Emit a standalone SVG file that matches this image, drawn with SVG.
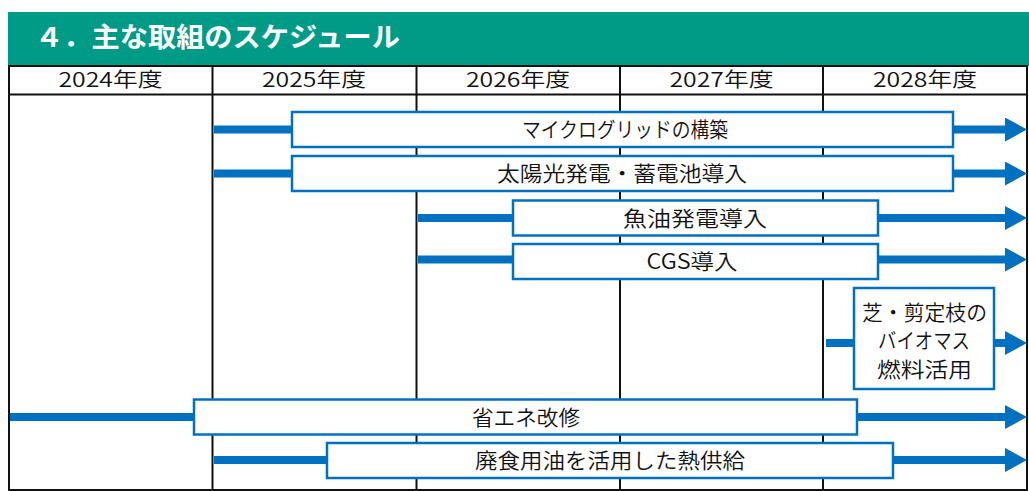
<svg xmlns="http://www.w3.org/2000/svg" width="1029" height="491" viewBox="0 0 1029 491">
<style>
  text { font-family: "Noto Sans CJK JP", "Noto Sans", sans-serif; fill: #111; }
  .title { font-size: 27px; font-weight: bold; fill: #fff; }
  .hdr { font-size: 20px; text-anchor: middle; font-weight: 350; }
  .lbl { font-size: 21px; text-anchor: middle; font-weight: 350; }
  .grid { stroke: #111; stroke-width: 2; fill: none; }
  .box { fill: #fff; stroke: #0070C0; stroke-width: 2.5; }
  .stub { stroke: #0070C0; stroke-width: 8; fill: none; }
  .arr { stroke: #0070C0; stroke-width: 8; fill: none; marker-end: url(#head); }
</style>
<defs>
  <marker id="head" markerUnits="userSpaceOnUse" markerWidth="23" markerHeight="25" refX="0" refY="12" orient="auto">
    <path d="M0,0 L22,12 L0,24 Z" fill="#0070C0"/>
  </marker>
</defs>
<rect width="1029" height="491" fill="#fff"/>
<g id="title">
  <rect x="8" y="12" width="1021" height="54" fill="#009B87"/>
  <text class="title" x="35" y="47" textLength="365" lengthAdjust="spacingAndGlyphs">４．主な取組のスケジュール</text>
</g>
<g id="table">
  <rect class="grid" x="9" y="66" width="1018" height="424"/>
  <line class="grid" x1="9" y1="94.5" x2="1027" y2="94.5"/>
  <line class="grid" x1="212.5" y1="66" x2="212.5" y2="490"/>
  <line class="grid" x1="416.5" y1="66" x2="416.5" y2="490"/>
  <line class="grid" x1="620" y1="66" x2="620" y2="490"/>
  <line class="grid" x1="823" y1="66" x2="823" y2="490"/>
  <text class="hdr" x="110.5" y="87" textLength="104" lengthAdjust="spacingAndGlyphs">2024年度</text>
  <text class="hdr" x="314" y="87" textLength="104" lengthAdjust="spacingAndGlyphs">2025年度</text>
  <text class="hdr" x="518" y="87" textLength="104" lengthAdjust="spacingAndGlyphs">2026年度</text>
  <text class="hdr" x="721.5" y="87" textLength="104" lengthAdjust="spacingAndGlyphs">2027年度</text>
  <text class="hdr" x="925" y="87" textLength="104" lengthAdjust="spacingAndGlyphs">2028年度</text>
</g>
<g id="connectors">
  <line class="stub" x1="214" y1="129.5" x2="292" y2="129.5"/>
  <line class="arr" x1="953" y1="129.5" x2="1005" y2="129.5"/>
  <line class="stub" x1="214" y1="173.5" x2="292" y2="173.5"/>
  <line class="arr" x1="953" y1="173.5" x2="1005" y2="173.5"/>
  <line class="stub" x1="418" y1="218" x2="513" y2="218"/>
  <line class="arr" x1="878" y1="218" x2="1005" y2="218"/>
  <line class="stub" x1="418" y1="259.5" x2="513" y2="259.5"/>
  <line class="arr" x1="878" y1="259.5" x2="1005" y2="259.5"/>
  <line class="stub" x1="826" y1="343" x2="854" y2="343"/>
  <line class="arr" x1="994" y1="343" x2="1005" y2="343"/>
  <line class="stub" x1="10" y1="417" x2="194" y2="417"/>
  <line class="arr" x1="857" y1="417" x2="1005" y2="417"/>
  <line class="stub" x1="214" y1="460" x2="327" y2="460"/>
  <line class="arr" x1="893" y1="460" x2="1005" y2="460"/>
</g>
<g id="node-microgrid">
  <rect class="box" x="292" y="112" width="661" height="35"/>
  <text class="lbl" x="625" y="137" textLength="206" lengthAdjust="spacingAndGlyphs">マイクログリッドの構築</text>
</g>
<g id="node-solar">
  <rect class="box" x="292" y="156" width="661" height="35"/>
  <text class="lbl" x="622" y="181" textLength="250" lengthAdjust="spacingAndGlyphs">太陽光発電・蓄電池導入</text>
</g>
<g id="node-fishoil">
  <rect class="box" x="513" y="200.5" width="365" height="35"/>
  <text class="lbl" x="695" y="225.5" textLength="144" lengthAdjust="spacingAndGlyphs">魚油発電導入</text>
</g>
<g id="node-cgs">
  <rect class="box" x="513" y="244" width="365" height="35"/>
  <text class="lbl" x="692" y="269" textLength="91" lengthAdjust="spacingAndGlyphs">CGS導入</text>
</g>
<g id="node-biomass">
  <rect class="box" x="854" y="288" width="140" height="101"/>
  <text class="lbl" x="924.5" y="320" textLength="125" lengthAdjust="spacingAndGlyphs">芝・剪定枝の</text>
  <text class="lbl" x="924" y="348" textLength="92" lengthAdjust="spacingAndGlyphs">バイオマス</text>
  <text class="lbl" x="924.5" y="377" textLength="95" lengthAdjust="spacingAndGlyphs">燃料活用</text>
</g>
<g id="node-energysaving">
  <rect class="box" x="194" y="399.5" width="663" height="35"/>
  <text class="lbl" x="526" y="424.5" textLength="108" lengthAdjust="spacingAndGlyphs">省エネ改修</text>
</g>
<g id="node-wasteoil">
  <rect class="box" x="327" y="443" width="566" height="35"/>
  <text class="lbl" x="610" y="468" textLength="270" lengthAdjust="spacingAndGlyphs">廃食用油を活用した熱供給</text>
</g>
</svg>
